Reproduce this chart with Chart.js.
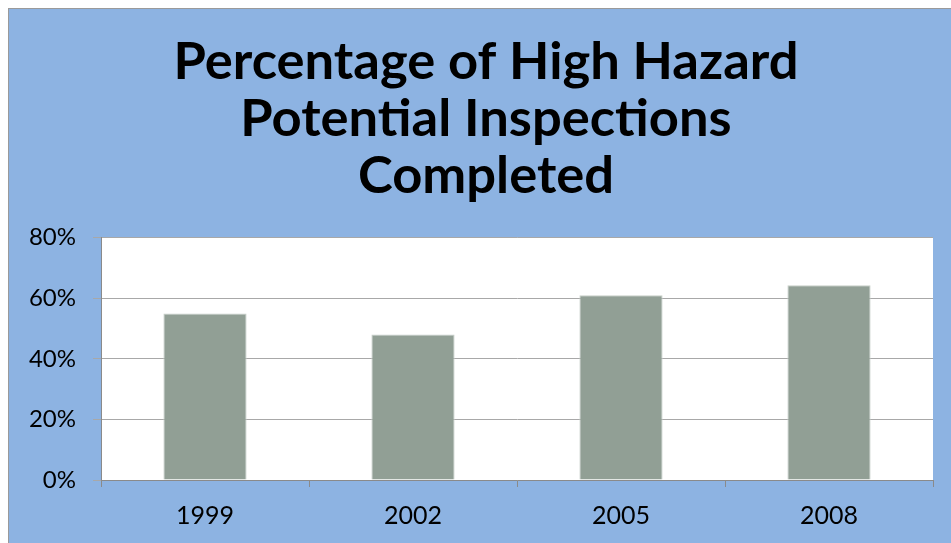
<!DOCTYPE html>
<html><head><meta charset="utf-8">
<script src="https://cdn.jsdelivr.net/npm/chart.js@4"></script>
<style>
html,body{margin:0;padding:0;background:#fff;}
#wrap{position:absolute;left:8px;top:8px;width:943px;height:535px;background:#8DB3E2;border-left:1px solid #9a9a9a;border-top:1px solid #9a9a9a;}
canvas{display:block;}
</style></head><body>
<div id="wrap"><canvas id="c" width="942" height="534"></canvas></div>
<script>
const titleLines = ["Percentage of High Hazard", "Potential Inspections", "Completed"];
const categories = ["1999", "2002", "2005", "2008"];
const values = [55, 48, 61, 64.3];
const yTicks = [0, 20, 40, 60, 80];

const plotBg = {
  id: 'plotBg',
  afterLayout(chart) {
    if (chart.titleBlock) { chart.titleBlock.left = 30; }
  },
  beforeDraw(chart) {
    const {ctx, chartArea: a} = chart;
    ctx.save();
    ctx.fillStyle = '#ffffff';
    ctx.fillRect(a.left, a.top, a.right - a.left, a.bottom - a.top);
    ctx.restore();
  }
};

new Chart(document.getElementById('c'), {
  type: 'bar',
  data: {
    labels: categories,
    datasets: [{
      data: values,
      backgroundColor: '#919F95',
      borderColor: '#C8CFC9',
      borderWidth: 1,
      barPercentage: 0.4,
      categoryPercentage: 1.0
    }]
  },
  options: {
    responsive: false,
    animation: false,
    layout: { padding: { left: 0, right: 18, top: 0, bottom: 0 } },
    plugins: {
      legend: { display: false },
      tooltip: { enabled: false },
      title: {
        display: true,
        text: titleLines,
        color: '#000',
        font: { family: 'Lato', size: 52.5, weight: 'bold', lineHeight: 1.09 },
        padding: { top: 24, bottom: 33 }
      }
    },
    scales: {
      x: {
        grid: { offset: true, drawOnChartArea: false, color: '#8a8a8a', tickLength: 7, lineWidth: 1 },
        border: { color: '#8a8a8a', width: 1 },
        ticks: { color: '#000', font: { family: 'Lato', size: 25 }, padding: 14 },
        afterFit(s) { s.height = 63; }
      },
      y: {
        min: 0, max: 80,
        afterBuildTicks(s) { s.ticks = yTicks.map(v => ({ value: v })); },
        grid: { color: '#A8A8A8', tickLength: 8, lineWidth: 1 },
        border: { color: '#8a8a8a', width: 1 },
        ticks: { color: '#000', font: { family: 'Lato', size: 24 }, padding: 17, callback: v => v + '%' },
        afterFit(s) { s.width = 92; }
      }
    }
  },
  plugins: [plotBg]
});
</script>
</body></html>
